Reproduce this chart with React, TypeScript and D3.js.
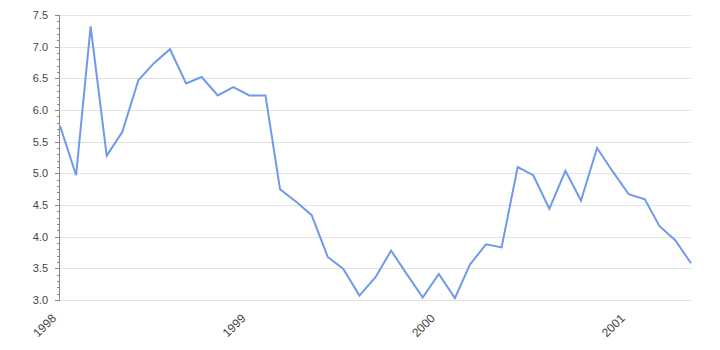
import React, { useEffect, useRef } from "react";
import * as d3 from "d3";

const months: string[] = [
  "1998-01", "1998-02", "1998-03", "1998-04", "1998-05", "1998-06", "1998-07", "1998-08", "1998-09", "1998-10", "1998-11", "1998-12",
  "1999-01", "1999-02", "1999-03", "1999-04", "1999-05", "1999-06", "1999-07", "1999-08", "1999-09", "1999-10", "1999-11", "1999-12",
  "2000-01", "2000-02", "2000-03", "2000-04", "2000-05", "2000-06", "2000-07", "2000-08", "2000-09", "2000-10", "2000-11", "2000-12",
  "2001-01", "2001-02", "2001-03", "2001-04", "2001-05",
];

const values: number[] = [
  5.75, 4.97, 7.32, 5.28, 5.65, 6.47, 6.74, 6.96, 6.42, 6.52, 6.23, 6.36,
  6.23, 6.23, 4.75, 4.55, 4.34, 3.68, 3.49, 3.07, 3.36, 3.78, 3.40, 3.04,
  3.41, 3.03, 3.56, 3.88, 3.83, 5.10, 4.97, 4.44, 5.04, 4.57, 5.40, 5.03,
  4.67, 4.59, 4.17, 3.94, 3.58,
];

const yTicks: number[] = [3.0, 3.5, 4.0, 4.5, 5.0, 5.5, 6.0, 6.5, 7.0, 7.5];
const xTickYears: number[] = [1998, 1999, 2000, 2001];

const W = 720;
const H = 350;
const M = { left: 60, right: 29, top: 15, bottom: 50 };

export default function App() {
  const ref = useRef<SVGSVGElement>(null);

  useEffect(() => {
    const svg = d3.select(ref.current);
    svg.selectAll("*").remove();
    const parse = d3.timeParse("%Y-%m");
    const data = months.map((m, i) => ({ date: parse(m) as Date, value: values[i] }));

    const x = d3
      .scaleTime()
      .domain([data[0].date, data[data.length - 1].date])
      .range([M.left, W - M.right]);
    const y = d3.scaleLinear().domain([3.0, 7.5]).range([H - M.bottom, M.top]);

    const font = "'Liberation Sans', Arial, sans-serif";

    // gridlines
    svg
      .append("g")
      .selectAll("line")
      .data(yTicks)
      .join("line")
      .attr("x1", M.left)
      .attr("x2", W - M.right)
      .attr("y1", (d) => Math.round(y(d)) + 0.5)
      .attr("y2", (d) => Math.round(y(d)) + 0.5)
      .attr("stroke", "#e3e3e3")
      .attr("stroke-width", 1);

    // minor ticks
    const minor = d3.range(30, 76).map((v) => v / 10).filter((v) => Math.abs(v * 2 - Math.round(v * 2)) > 1e-6);
    svg
      .append("g")
      .selectAll("line")
      .data(minor)
      .join("line")
      .attr("x1", M.left - 3)
      .attr("x2", M.left)
      .attr("y1", (d) => Math.round(y(d)) + 0.5)
      .attr("y2", (d) => Math.round(y(d)) + 0.5)
      .attr("stroke", "#888")
      .attr("stroke-width", 1);

    // major ticks
    svg
      .append("g")
      .selectAll("line")
      .data(yTicks)
      .join("line")
      .attr("x1", M.left - 5)
      .attr("x2", M.left)
      .attr("y1", (d) => Math.round(y(d)) + 0.5)
      .attr("y2", (d) => Math.round(y(d)) + 0.5)
      .attr("stroke", "#888")
      .attr("stroke-width", 1);

    // axis line
    svg
      .append("line")
      .attr("x1", M.left - 0.5)
      .attr("x2", M.left - 0.5)
      .attr("y1", M.top)
      .attr("y2", H - M.bottom + 1)
      .attr("stroke", "#888")
      .attr("stroke-width", 1);

    // y labels
    svg
      .append("g")
      .selectAll("text")
      .data(yTicks)
      .join("text")
      .attr("x", M.left - 12)
      .attr("y", (d) => y(d))
      .attr("dy", "0.35em")
      .attr("text-anchor", "end")
      .attr("font-family", font)
      .attr("font-size", 11)
      .attr("fill", "#444")
      .text((d) => d.toFixed(1));

    // x labels
    svg
      .append("g")
      .selectAll("text")
      .data(xTickYears)
      .join("text")
      .attr("transform", (d) => `translate(${x(new Date(d, 0, 1)) - 6},${H - M.bottom + 16}) rotate(-45)`)
      .attr("text-anchor", "end")
      .attr("dy", "0.35em")
      .attr("font-family", font)
      .attr("font-size", 12)
      .attr("fill", "#444")
      .text((d) => String(d));

    // line
    const line = d3
      .line<{ date: Date; value: number }>()
      .x((d) => x(d.date))
      .y((d) => y(d.value));
    svg
      .append("path")
      .datum(data)
      .attr("d", line)
      .attr("fill", "none")
      .attr("stroke", "#6f9aec")
      .attr("stroke-width", 2)
      .attr("stroke-linejoin", "miter");
  }, []);

  return (
    <svg
      ref={ref}
      width={W}
      height={H}
      style={{ position: "absolute", left: 0, top: 0, background: "#fff" }}
    />
  );
}
